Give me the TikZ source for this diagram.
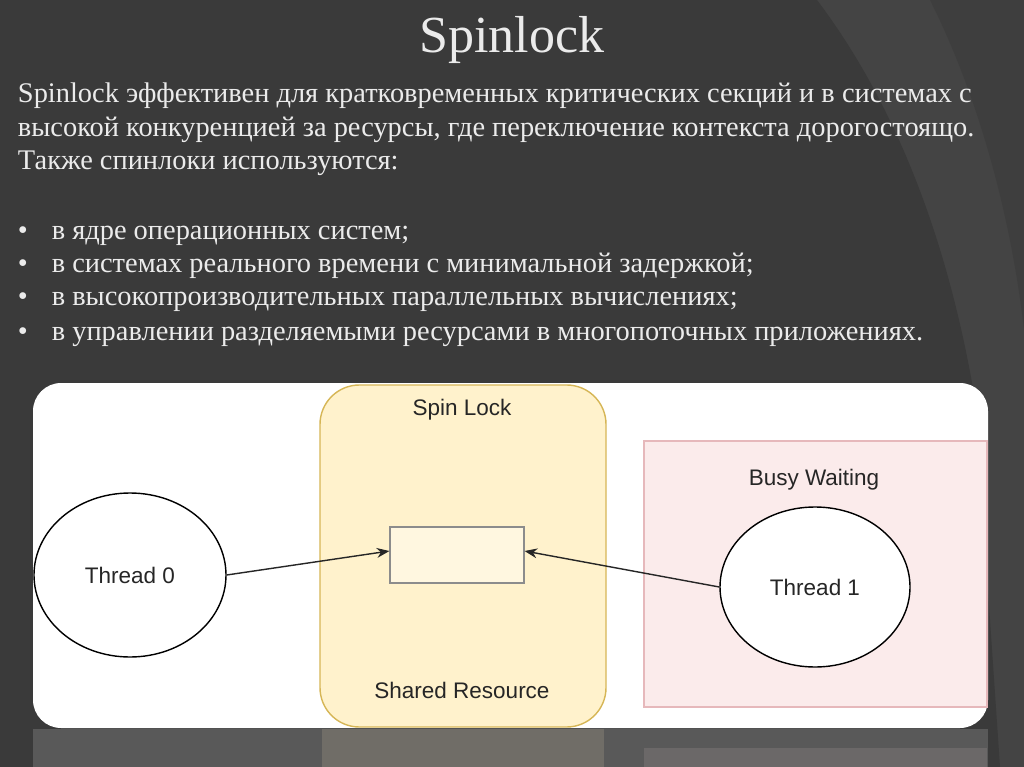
\documentclass[tikz,border=0pt]{standalone}
\usepackage{fontspec}
\setmainfont{Liberation Serif}
\newfontfamily\diagfont{Liberation Sans}
\usetikzlibrary{arrows.meta,shapes.geometric}
\definecolor{bgA}{HTML}{3A3A3A}
\definecolor{bgB}{HTML}{444444}
\definecolor{yfill}{HTML}{FFF2CC}
\definecolor{ydraw}{HTML}{D6B656}
\definecolor{pfill}{HTML}{FBEBEB}
\definecolor{pdraw}{HTML}{E6B8BB}
\tikzset{
  lbl/.style={font=\diagfont\fontsize{16}{18}\selectfont, text=black!85},
  thr/.style={draw=black, line width=1pt, fill=white, ellipse},
  conn/.style={-{Stealth[length=9pt,width=7pt]}, line width=1pt, black!85},
  body/.style={font=\fontsize{20.2}{24}\selectfont, text=white!92!black, anchor=base west}
}
\begin{document}
\begin{tikzpicture}[x=0.025cm,y=-0.025cm]
\useasboundingbox (0,0) rectangle (1024,767);
\fill[bgB] (0,0) rectangle (1024,767);
\fill[bgA] (0,0) -- (817,0) .. controls (900,110) and (950,250) .. (975,400) -- (1000,767) -- (0,767) -- cycle;
\fill[black!80!white, opacity=0.35] (930,0) .. controls (990,120) and (1015,250) .. (1024,330) -- (1024,0) -- cycle;
% reflection
\fill[gray!70!black] (33,729) rectangle (988,767);
\fill[yfill!25!gray!70!black] (322,729) rectangle (604,767);
\fill[pfill!20!gray!70!black] (644,748) rectangle (987,767);
% title and text
\node[font=\fontsize{37}{42}\selectfont, text=white!92!black] (title) at (512,40) {Spinlock};
\node[body] (l1) at (13,103) {Spinlock эффективен для кратковременных критических секций и в системах с};
\node[body] (l2) at (13,137) {высокой конкуренцией за ресурсы, где переключение контекста дорогостоящо.};
\node[body] (l3) at (13,170) {Также спинлоки используются:};
\node[body] (b1) at (13,239) {•\hspace{17pt}в ядре операционных систем;};
\node[body] (b2) at (13,272) {•\hspace{17pt}в системах реального времени с минимальной задержкой;};
\node[body] (b3) at (13,305) {•\hspace{17pt}в высокопроизводительных параллельных вычислениях;};
\node[body] (b4) at (13,340) {•\hspace{17pt}в управлении разделяемыми ресурсами в многопоточных приложениях.};
% diagram panel
\fill[white, rounded corners=20] (33,383) rectangle (988,728);
\draw[ydraw, fill=yfill, line width=1pt, rounded corners=28] (320,385) rectangle (606,727);
\draw[pdraw, fill=pfill, line width=1pt] (644,441) rectangle (987,707);
\node[lbl] (spin) at (462,410) {Spin Lock};
\node[lbl] (busy) at (814,480) {Busy Waiting};
\node[lbl] (shared) at (462,690) {Shared Resource};
\node[draw=black!45, fill=yfill!60!white, line width=0.8pt, minimum width=134*0.025cm, minimum height=56*0.025cm] (res) at (457,555) {};
\node[thr, minimum width=192*0.025cm, minimum height=164*0.025cm, lbl] (t0) at (130,575) {Thread 0};
\node[thr, minimum width=190*0.025cm, minimum height=160*0.025cm, lbl] (t1) at (815,587) {Thread 1};
\draw[conn] (t0.east) -- ([yshift=0.1cm]res.west);
\draw[conn] (t1.west) -- ([yshift=0.1cm]res.east);
\end{tikzpicture}
\end{document}
